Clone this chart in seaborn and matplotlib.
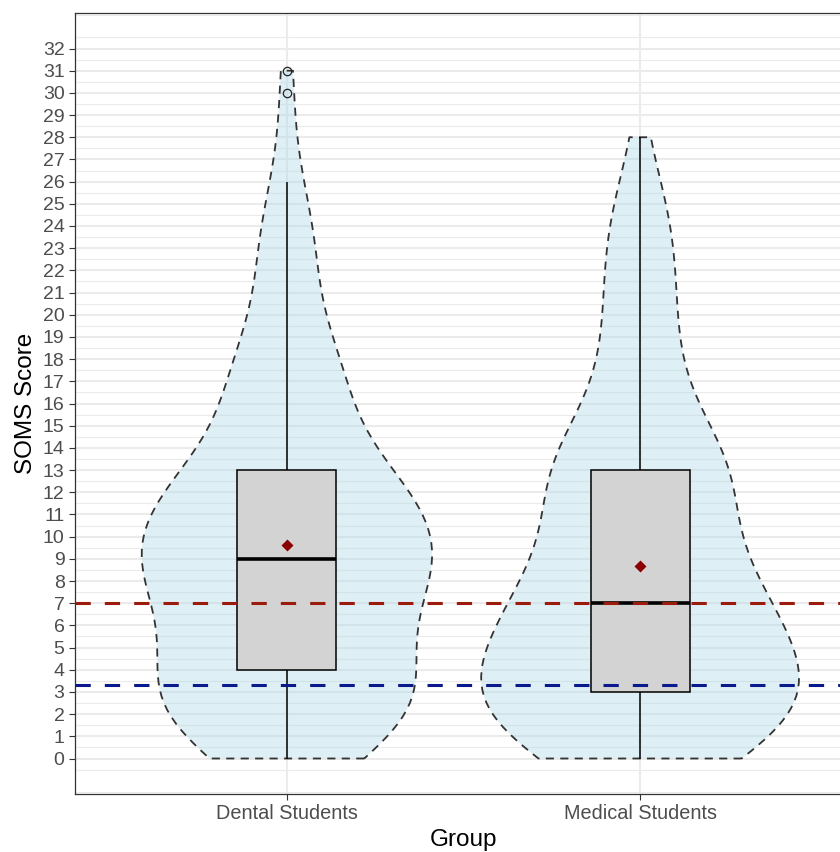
import numpy as np
import pandas as pd
import seaborn as sns
import matplotlib.pyplot as plt

# score distribution per group (number of students at each SOMS score)
groups = ["Dental Students", "Medical Students"]
scores_dental = list(range(32))
counts_dental = [4, 9, 11, 11, 10, 3, 4, 9, 11, 11, 9, 9, 9, 9, 2, 1,
                 4, 6, 5, 2, 0, 1, 3, 3, 1, 1, 2, 0, 0, 0, 1, 1]
scores_medical = list(range(29))
counts_medical = [8, 11, 13, 12, 11, 7, 7, 12, 8, 4, 3, 5, 7, 9, 6, 3,
                  2, 2, 2, 3, 2, 2, 2, 2, 3, 2, 1, 0, 1]

# reference lines
cutoff_score = 7
population_mean = 3.33

y_ticks = list(range(0, 33))

df = pd.concat([
    pd.DataFrame({"Group": groups[0], "SOMS Score": np.repeat(scores_dental, counts_dental)}),
    pd.DataFrame({"Group": groups[1], "SOMS Score": np.repeat(scores_medical, counts_medical)}),
], ignore_index=True)

sns.set_theme(style="ticks")
plt.rcParams["font.family"] = ["Liberation Sans", "DejaVu Sans"]

fig = plt.figure(figsize=(8.4, 8.52), dpi=100)
ax = fig.add_axes([75 / 840, 58 / 852, 777 / 840, 781 / 852])

# violins
sns.violinplot(data=df, x="Group", y="SOMS Score", order=groups, cut=0,
               density_norm="area", width=0.9, inner=None, color="lightblue",
               linecolor="#333333", linewidth=1.3, saturation=1, ax=ax)
for coll in ax.collections:
    coll.set_facecolor((173 / 255, 216 / 255, 230 / 255, 0.4))
    coll.set_edgecolor("#333333")
    coll.set_linestyle((0, (4.5, 3.5)))
    coll.set_zorder(2)

# boxes
sns.boxplot(data=df, x="Group", y="SOMS Score", order=groups, width=0.28,
            color="#D3D3D3", linecolor="black", linewidth=1.1, saturation=1,
            showcaps=False,
            flierprops=dict(marker="o", markerfacecolor="none",
                            markeredgecolor="#222222", markersize=6, markeredgewidth=0.9),
            medianprops=dict(linewidth=2.6, color="black"),
            ax=ax, zorder=3)

# mean markers
sns.pointplot(data=df, x="Group", y="SOMS Score", order=groups, estimator="mean",
              errorbar=None, color="#8B0000", markers="D", linestyle="none",
              markersize=3.6, zorder=7, ax=ax)

ax.axhline(cutoff_score, color="#9B1B0E", lw=2.2, ls=(0, (5, 4.6)), zorder=6)
ax.axhline(population_mean, color="#0A1A8C", lw=2.2, ls=(0, (5, 4.6)), zorder=6)

ax.set_xlim(-0.6, 1.6)
ax.set_ylim(-1.6, 33.6)
ax.set_yticks(y_ticks)
ax.set_yticks(np.arange(-1.5, 33.6, 1.0), minor=True)
ax.grid(True, which="major", color="#EBEBEB", lw=1.5, zorder=0)
ax.grid(True, which="minor", axis="y", color="#EBEBEB", lw=0.8, zorder=0)
ax.set_axisbelow(True)

ax.tick_params(axis="both", which="major", labelsize=14, colors="#333333",
               labelcolor="#4D4D4D", length=4, width=0.8)
ax.tick_params(axis="both", which="minor", length=0)
ax.tick_params(axis="x", labelsize=14.3)
for side in ["left", "right", "top", "bottom"]:
    ax.spines[side].set_visible(True)
    ax.spines[side].set_color("#333333")
    ax.spines[side].set_linewidth(0.9)

ax.set_xlabel("Group", fontsize=17.5, color="black", labelpad=4)
ax.set_ylabel("SOMS Score", fontsize=17.5, color="black", labelpad=4)

fig.savefig("out.png", dpi=100)
